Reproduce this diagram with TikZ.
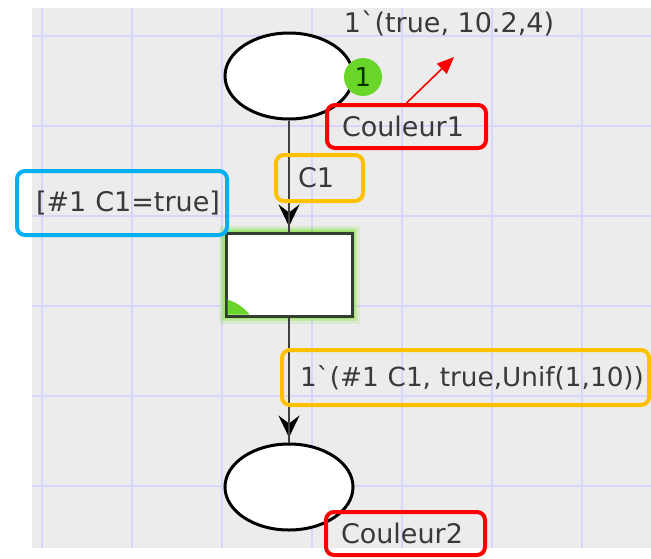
\documentclass[tikz,border=0pt]{standalone}
\usepackage{fontspec}
\setmainfont{DejaVu Sans}
\usepackage{xcolor}
\usetikzlibrary{positioning, arrows.meta, shapes.geometric}

\definecolor{canvas}{RGB}{236,236,236}
\definecolor{gridblue}{RGB}{214,214,250}
\definecolor{tokengreen}{RGB}{106,214,42}
\definecolor{glowgreen}{RGB}{125,225,45}
\definecolor{transborder}{RGB}{50,62,48}
\definecolor{noteorange}{RGB}{255,192,0}
\definecolor{notered}{RGB}{255,0,0}
\definecolor{noteblue}{RGB}{0,176,240}
\definecolor{inscr}{RGB}{58,58,58}

\begin{document}
\begin{tikzpicture}[
    x=1pt, y=-1pt,
    font=\fontsize{27pt}{32pt}\selectfont,
    place/.style={ellipse, draw=black, line width=3pt, fill=white, minimum width=128pt, minimum height=86pt},
    trans/.style={rectangle, draw=transborder, line width=3pt, fill=white, minimum width=126pt, minimum height=83pt,
        preaction={draw=glowgreen, draw opacity=0.15, line width=15pt},
        preaction={draw=glowgreen, draw opacity=0.25, line width=10pt},
        preaction={draw=glowgreen, draw opacity=0.45, line width=6pt}},
    token/.style={circle, fill=tokengreen, minimum size=38pt, inner sep=0pt, text=black!80!green, font=\fontsize{26pt}{28pt}\selectfont},
    arc/.style={draw=black!75, line width=2.5pt, shorten >=5pt,
        -{Stealth[length=22pt, width=21pt, inset=8pt, color=black]},
        postaction={draw, -, shorten >=0pt}},
    note/.style={rectangle, draw, rounded corners=8pt, line width=4pt, align=left, text=inscr, inner ysep=0pt},
    gridline/.style={draw=gridblue, line width=2.5pt}
]
\useasboundingbox (0,0) rectangle (651,558);
\fill[canvas] (32,7.5) rectangle (651,548);
\foreach \gx in {42,132,...,582} \draw[gridline] (\gx,7.5) -- (\gx,548);
\foreach \gy in {36,126,...,486} \draw[gridline] (32,\gy) -- (651,\gy);

\node[place] (p_in) at (289,76) {};
\node[trans, below=111pt of p_in] (t_draw) {};
\node[place, below=125pt of t_draw] (p_out) {};
\node[token] (tok) at (363,77) {1};
\fill[tokengreen] ([shift={(3,-3)}]t_draw.south west) -- ++(0,-15) to[bend left=15] ++(22,15) -- cycle;

\draw[arc] (p_in) -- (t_draw);
\draw[arc] (t_draw) -- (p_out);

\node[text=inscr, inner sep=0pt] (m0) at (449,23) {1\textasciigrave(true, 10.2,4)};
\node[note, draw=notered, text width=129pt, inner xsep=15pt, minimum height=43pt] (c1name) at (406.5,126.5) {Couleur1};
\coordinate (m0ptr) at (454,57);
\draw[notered, line width=1.6pt, -{Triangle[length=17pt, width=14pt]}] (c1name.north) -- (m0ptr);

\node[note, draw=noteorange, text width=43pt, inner xsep=22pt, minimum height=46pt] (arcin) at (319.5,178) {C1};
\node[note, draw=noteblue, text width=172pt, inner xsep=19pt, minimum height=64pt] (guard) at (122,203) {\mbox{[\#1 C1=true]}};
\node[note, draw=noteorange, text width=331pt, inner xsep=18pt, minimum height=55pt, font=\fontsize{26.3pt}{31pt}\selectfont] (arcout) at (465.5,377.5) {\mbox{1\textasciigrave(\#1 C1, true,Unif(1,10))}};
\node[note, draw=notered, text width=129pt, inner xsep=15pt, minimum height=43pt] (c2name) at (405.5,533.5) {Couleur2};
\end{tikzpicture}
\end{document}
